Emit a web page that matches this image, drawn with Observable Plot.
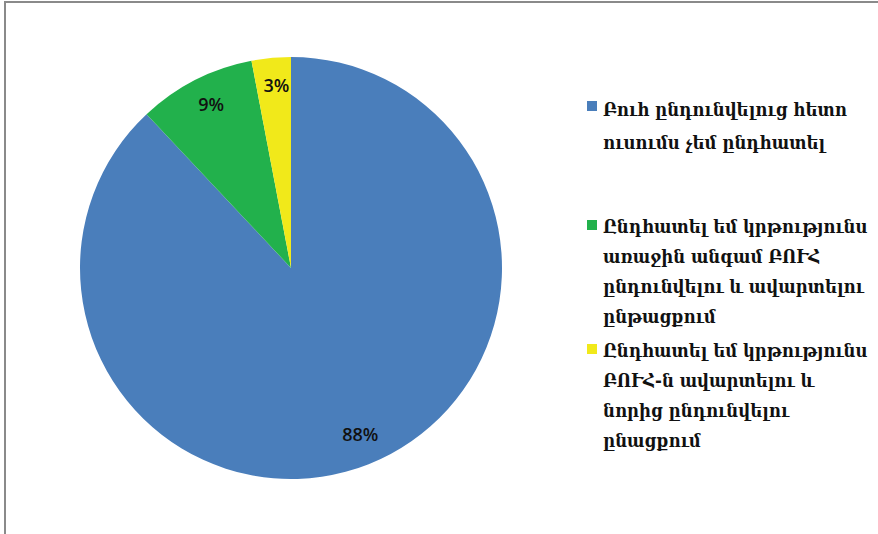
<!DOCTYPE html>
<html>
<head>
<meta charset="utf-8">
<script src="https://cdn.jsdelivr.net/npm/d3@7"></script>
<script src="https://cdn.jsdelivr.net/npm/@observablehq/plot@0.6"></script>
<style>
  html, body { margin: 0; padding: 0; background: #fff; }
  #wrap { position: relative; width: 878px; height: 534px; overflow: hidden; }
  #frame { position: absolute; left: 4px; top: 1px; right: -10px; bottom: -10px;
           border-top: 2px solid #8a8a8a; border-left: 2px solid #8a8a8a; }
  #chart { position: absolute; left: 0; top: 0; }
  #legend { position: absolute; left: 587px; top: 0; font-family: "DejaVu Serif Condensed", "DejaVu Serif", serif;
            font-weight: bold; font-size: 18.4px; color: #111; }
  .item { position: absolute; left: 0; white-space: nowrap; }
  .sw { position: absolute; left: 0; top: 8px; width: 10px; height: 10px; }
  .txt { position: absolute; left: 16px; top: 0; line-height: 30px; }
</style>
</head>
<body>
<div id="wrap">
  <div id="frame"></div>
  <div id="chart"></div>
  <div id="legend"></div>
</div>
<script>
const categories = [
  "Բուհ ընդունվելուց հետո\nուսումս չեմ ընդհատել",
  "Ընդհատել եմ կրթությունս\nառաջին անգամ ԲՈՒՀ\nընդունվելու և ավարտելու\nընթացքում",
  "Ընդհատել եմ կրթությունս\nԲՈՒՀ-ն ավարտելու և\nնորից ընդունվելու\nընացքում"
];
const values = [88, 9, 3];
const valueLabels = ["88%", "9%", "3%"];
const colors = ["#4a7ebb", "#22b14c", "#f1e91a"];

const data = categories.map((c, i) => ({category: c, value: values[i], label: valueLabels[i], color: colors[i]}));
const arcs = d3.pie().value(d => d.value).sort(null)(data);
const labelR = 0.86;
const labelData = arcs.map(a => {
  const m = (a.startAngle + a.endAngle) / 2;
  return {x: labelR * Math.sin(m), y: labelR * Math.cos(m), label: a.data.label};
});

function pieMark(index, scales, values, dimensions, context) {
  const cx = scales.x(0), cy = scales.y(0);
  const r = scales.x(1) - scales.x(0);
  const arc = d3.arc().innerRadius(0).outerRadius(r);
  const g = d3.create("svg:g").attr("transform", `translate(${cx},${cy})`);
  g.selectAll("path").data(arcs).join("path")
    .attr("d", arc)
    .attr("fill", d => d.data.color);
  return g.node();
}

const plot = Plot.plot({
  width: 580,
  height: 534,
  margin: 0,
  x: {domain: [-1, 1], range: [80, 502], axis: null},
  y: {domain: [-1, 1], range: [479, 57], axis: null},
  style: {background: "transparent", overflow: "visible"},
  marks: [
    pieMark,
    Plot.text(labelData, {x: "x", y: "y", text: "label", fontSize: 18, fontWeight: 600,
      fontFamily: "'Open Sans', sans-serif", fill: "#111", dx: 2, dy: -2})
  ]
});
document.getElementById("chart").appendChild(plot);

const legendTops = [93, 212, 336];
const legend = document.getElementById("legend");
data.forEach((d, i) => {
  const it = document.createElement("div");
  it.className = "item";
  it.style.top = legendTops[i] + "px";
  const sw = document.createElement("div");
  sw.className = "sw";
  sw.style.background = d.color;
  const t = document.createElement("div");
  t.className = "txt";
  t.innerHTML = d.category.split("\n").join("<br>");
  if (i === 0) t.style.lineHeight = "33px";
  it.appendChild(sw);
  it.appendChild(t);
  legend.appendChild(it);
});
</script>
</body>
</html>
